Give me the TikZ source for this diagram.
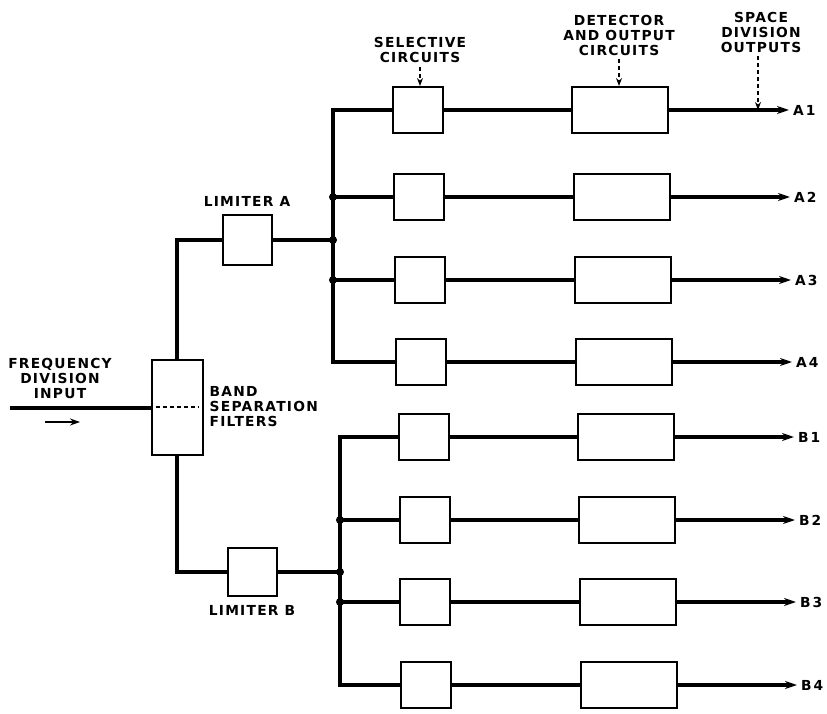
\documentclass[tikz,border=0pt]{standalone}
\usepackage{fontspec}
\setmainfont{DejaVu Sans}[LetterSpace=9]
\usetikzlibrary{arrows.meta, positioning}
\tikzset{
  wire/.style={line width=3.2pt},
  blk/.style={draw, line width=2pt, minimum width=50pt, minimum height=46pt, inner sep=0pt},
  wideblk/.style={blk, minimum width=96pt},
  lbl/.style={font=\fontsize{13.8}{15}\selectfont\bfseries, align=center, inner sep=0pt},
  pointer/.style={line width=1.1pt, dash pattern=on 4pt off 3pt, -{Stealth[length=8pt,width=6pt]}},
  outarrow/.style={wire, -{Stealth[length=12pt,width=8pt]}},
  jdot/.style={circle, fill, inner sep=0pt, minimum size=8pt}
}

\begin{document}
\begin{tikzpicture}[x=1pt,y=-1pt]
  \useasboundingbox (0,0) rectangle (827,714);
  % input side
  \node[blk, minimum width=51pt, minimum height=95pt] (filt) at (177,407) {};
  \draw[line width=1.1pt, dash pattern=on 4pt off 3pt] ([xshift=5pt]filt.west) -- ([xshift=-5pt]filt.east);
  \node[lbl, anchor=west, align=left] (filtlbl) at ([xshift=6pt]filt.east) {BAND\\SEPARATION\\FILTERS};
  \coordinate (in) at (10,408);
  \draw[wire] (in) -- (filt.west |- in);
  \node[lbl] (inlbl) at (60,378) {FREQUENCY\\DIVISION\\INPUT};
  \coordinate (inarrowA) at (45,422);
  \coordinate (inarrowB) at (80,422);
  \draw[line width=2pt, -{Stealth[length=10pt,width=7pt]}] (inarrowA) -- (inarrowB);

  % limiters and buses
  \node[blk, minimum width=49pt, minimum height=49pt] (limA) at (247,240) {};
  \node[blk, minimum width=49pt, minimum height=48pt] (limB) at (252,572) {};
  \node[lbl, above=8pt of limA] (limAlbl) {LIMITER A};
  \node[lbl, below=8pt of limB] (limBlbl) {LIMITER B};
  \coordinate (busA) at (333,240);
  \coordinate (busB) at (340,572);
  \draw[wire] (filt.north) |- (limA.west);
  \draw[wire] (filt.south) |- (limB.west);
  \draw[wire] (limA.east) -- (busA);
  \draw[wire] (limB.east) -- (busB);

  % selective, detector and outputs
  \foreach \g/\r/\y/\sx/\dx/\ox in {A/1/110/418/620/789,A/2/197/419/622/790,A/3/280/420/623/791,A/4/362/421/624/792,
                                    B/1/437/424/626/794,B/2/520/425/627/795,B/3/602/425/628/796,B/4/685/426/629/797}{
    \node[blk] (sel\g\r) at (\sx,\y) {};
    \node[wideblk] (det\g\r) at (\dx,\y) {};
    \coordinate (out\g\r) at (\ox,\y);
    \node[lbl, anchor=west] (name\g\r) at ([xshift=4pt]out\g\r) {\g\kern2pt\r};
    \draw[wire] (sel\g\r.east) -- (det\g\r.west);
    \draw[outarrow] (det\g\r.east) -- (out\g\r);
  }
  \draw[wire] (selA1.west) -| (busA) |- (selA4.west);
  \draw[wire] (selB1.west) -| (busB) |- (selB4.west);
  \foreach \g in {A,B}{
    \node[jdot] at (bus\g) {};
    \foreach \r in {2,3}{
      \draw[wire] (bus\g |- sel\g\r.west) -- (sel\g\r.west);
      \node[jdot] at (bus\g |- sel\g\r.west) {};
    }
  }

  % column captions
  \node[lbl] (sellbl) at (420,50) {SELECTIVE\\CIRCUITS};
  \node[lbl] (detlbl) at (619,35) {DETECTOR\\AND OUTPUT\\CIRCUITS};
  \node[lbl] (outlbl) at (761,32) {SPACE\\DIVISION\\OUTPUTS};
  \draw[pointer] ([yshift=-4pt]sellbl.south) -- (sellbl.south |- selA1.north);
  \draw[pointer] ([yshift=-4pt]detlbl.south) -- (detlbl.south |- detA1.north);
  \draw[pointer] ([xshift=-3pt,yshift=-4pt]outlbl.south) -- ([xshift=-3pt]outlbl.south |- outA1);
\end{tikzpicture}
\end{document}
